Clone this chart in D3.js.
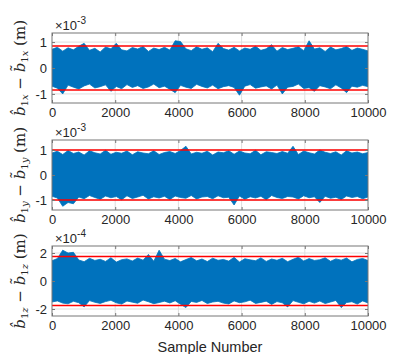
<!DOCTYPE html>
<html>
<head>
<meta charset="utf-8">
<script src="https://cdn.jsdelivr.net/npm/d3@7"></script>
<style>
  body { margin: 0; background: #fff; }
  svg { display: block; }
  text { font-family: "Liberation Sans", Arial, sans-serif; fill: #262626; }
</style>
</head>
<body>
<div id="chart"></div>
<script>
// sample axis
var nSamples = 10000;
var xTicks = [0, 2000, 4000, 6000, 8000, 10000];

// per-bin peak values (60 bins of ~167 samples each)
// x error, units of 1e-3 m
var hiX = [0.72,0.80,0.65,0.78,0.70,0.84,0.95,0.68,0.76,0.62,0.81,0.74,0.95,0.70,0.66,0.79,0.73,0.83,0.64,0.77,0.71,0.80,0.69,1.05,1.02,0.74,0.67,0.82,0.72,0.78,0.63,0.95,0.75,0.69,0.80,0.66,0.77,0.72,0.84,0.68,0.74,0.90,0.65,0.79,0.71,0.76,0.82,0.67,1.05,0.73,0.78,0.64,0.81,0.70,0.75,0.83,0.68,0.77,0.72,0.66];
var loX = [-0.70,-0.78,-1.00,-0.66,-0.74,-0.81,-0.69,-0.62,-0.77,-0.72,-0.65,-0.90,-0.71,-0.80,-0.64,-0.75,-0.68,-0.79,-0.73,-0.62,-0.76,-0.70,-0.82,-0.95,-0.67,-0.74,-0.79,-0.63,-0.71,-0.77,-0.66,-0.80,-0.72,-0.68,-0.75,-1.05,-0.70,-0.64,-0.78,-0.73,-0.69,-0.81,-0.66,-1.00,-0.74,-0.71,-0.62,-0.79,-0.76,-0.90,-0.68,-0.73,-0.80,-0.65,-0.77,-0.95,-0.70,-0.74,-0.67,-0.72];
var boundX = 0.85;
var yTicksX = [-1, 0, 1];
var yLimX = [-1.35, 1.35];

// y error, units of 1e-3 m
var hiY = [0.88,0.95,0.82,0.98,0.86,0.92,0.80,0.97,0.89,0.84,0.99,0.83,0.91,0.87,0.96,0.81,0.93,0.88,0.85,0.97,0.82,0.90,0.94,0.86,0.98,1.15,0.84,0.91,0.87,0.95,0.80,0.92,0.89,0.97,0.83,0.96,0.88,0.85,0.99,0.81,0.93,0.90,0.86,0.94,0.87,1.15,0.82,0.96,0.89,0.84,1.00,0.91,0.86,0.93,0.80,0.97,0.88,0.92,0.85,0.90];
var loY = [-0.85,-0.92,-1.25,-1.10,-1.15,-0.88,-0.95,-0.82,-0.90,-0.97,-0.84,-0.91,-0.86,-0.99,-0.83,-0.94,-0.88,-0.81,-0.96,-0.87,-0.92,-0.85,-0.98,-0.84,-0.90,-0.93,-0.82,-0.96,-0.88,-0.86,-0.95,-0.83,-0.91,-0.89,-1.20,-0.84,-0.97,-0.87,-0.92,-0.85,-0.99,-0.82,-0.90,-0.94,-0.86,-0.88,-0.96,-0.83,-0.91,-0.87,-1.10,-0.85,-0.93,-0.89,-0.98,-0.84,-0.90,-0.86,-0.95,-0.88];
var boundY = 1.0;
var yTicksY = [-1, 0, 1];
var yLimY = [-1.4, 1.4];

// z error, units of 1e-4 m
var hiZ = [1.45,1.60,2.20,2.00,2.05,1.50,1.38,1.62,1.47,1.55,1.40,1.66,1.35,1.52,1.58,1.43,1.64,1.49,1.90,1.41,2.20,1.56,1.46,1.61,1.37,1.53,1.68,1.44,1.57,1.39,1.63,1.48,1.54,1.42,1.69,1.36,1.59,1.51,1.45,1.65,1.40,1.57,1.48,1.62,1.38,1.55,1.70,1.43,1.60,1.47,1.52,1.66,1.41,1.58,1.49,1.64,1.37,1.54,1.61,1.46];
var loZ = [-1.50,-1.42,-1.58,-1.63,-1.45,-1.55,-1.85,-1.40,-1.52,-1.60,-1.47,-1.38,-1.56,-1.65,-1.43,-1.51,-1.59,-1.36,-1.48,-1.62,-1.54,-1.44,-1.57,-1.41,-1.66,-1.90,-1.46,-1.53,-1.39,-1.61,-1.50,-1.45,-1.58,-1.64,-1.42,-1.55,-1.49,-1.37,-1.60,-1.53,-1.44,-1.67,-1.47,-1.56,-1.85,-1.40,-1.52,-1.63,-1.45,-1.58,-1.43,-1.61,-1.50,-1.39,-1.90,-1.54,-1.48,-1.65,-1.42,-1.57];
var boundZ = 1.75;
var yTicksZ = [-2, 0, 2];
var yLimZ = [-2.5, 2.5];

var panels = [
  { hi: hiX, lo: loX, bound: boundX, ticks: yTicksX, lim: yLimX, exp: "-3", sub: "x" },
  { hi: hiY, lo: loY, bound: boundY, ticks: yTicksY, lim: yLimY, exp: "-3", sub: "y" },
  { hi: hiZ, lo: loZ, bound: boundZ, ticks: yTicksZ, lim: yLimZ, exp: "-4", sub: "z" }
];

// layout
var svgWidth = 407, svgHeight = 354;
var left = 52, plotW = 316, plotH = 70;
var tops = [33, 140, 246];

var svg = d3.select("#chart").append("svg")
  .attr("width", svgWidth)
  .attr("height", svgHeight);

var x = d3.scaleLinear().domain([0, nSamples]).range([0, plotW]);

panels.forEach(function(p, k) {
  var y = d3.scaleLinear().domain(p.lim).range([plotH, 0]);
  var g = svg.append("g").attr("transform", `translate(${left}, ${tops[k]})`);

  g.append("clipPath").attr("id", "clip" + k)
    .append("rect").attr("width", plotW).attr("height", plotH);

  // grid
  g.append("g").selectAll("line")
    .data(xTicks.slice(1, -1))
    .enter().append("line")
    .attr("x1", d => x(d)).attr("x2", d => x(d))
    .attr("y1", 0).attr("y2", plotH)
    .style("stroke", "#dedede").style("stroke-width", 1);
  g.append("g").selectAll("line")
    .data(p.ticks)
    .enter().append("line")
    .attr("x1", 0).attr("x2", plotW)
    .attr("y1", d => y(d)).attr("y2", d => y(d))
    .style("stroke", "#dedede").style("stroke-width", 1);

  // signal band: bin maxima on top, bin minima at the bottom
  var n = p.hi.length;
  var step = nSamples / (n - 1);
  var band = d3.area()
    .x((d, i) => x(i * step))
    .y0((d, i) => y(p.lo[i]))
    .y1(d => y(d));

  g.append("path")
    .datum(p.hi)
    .attr("clip-path", `url(#clip${k})`)
    .attr("d", band)
    .style("fill", "#0072BD")
    .style("stroke", "#0072BD")
    .style("stroke-width", 0.8);

  // bounds
  g.append("g").selectAll("line")
    .data([p.bound, -p.bound])
    .enter().append("line")
    .attr("x1", 0).attr("x2", plotW)
    .attr("y1", d => y(d)).attr("y2", d => y(d))
    .style("stroke", "#FF0000")
    .style("stroke-width", 1.6);

  // axes with inward ticks
  var bottomAxis = d3.axisBottom(x).tickValues(xTicks).tickSize(-3).tickPadding(5)
    .tickFormat(d3.format("d"));
  var topAxis = d3.axisTop(x).tickValues(xTicks).tickSize(-3).tickFormat("");
  var leftAxis = d3.axisLeft(y).tickValues(p.ticks).tickSize(-3).tickPadding(5)
    .tickFormat(d => String(d));
  var rightAxis = d3.axisRight(y).tickValues(p.ticks).tickSize(-3).tickFormat("");

  g.append("g").attr("transform", `translate(0, ${plotH})`).call(bottomAxis);
  g.append("g").call(topAxis);
  g.append("g").call(leftAxis);
  g.append("g").attr("transform", `translate(${plotW}, 0)`).call(rightAxis);

  g.selectAll(".domain").remove();
  g.selectAll(".tick line").style("stroke", "#777");
  g.selectAll(".tick text")
    .style("font-family", '"Liberation Sans", Arial, sans-serif')
    .style("font-size", "13px")
    .style("fill", "#262626");

  g.append("rect")
    .attr("width", plotW).attr("height", plotH)
    .style("fill", "none")
    .style("stroke", "#777")
    .style("stroke-width", 1);

  // exponent label
  var ex = g.append("text").attr("x", 3).attr("y", -3).style("font-size", "13px");
  ex.append("tspan").text("\u00d710");
  ex.append("tspan").attr("dy", -6).style("font-size", "10px").text(p.exp);

  // y label: b-hat minus b-tilde
  var yl = g.append("text")
    .attr("transform", `translate(-27, ${plotH / 2}) rotate(-90)`)
    .attr("text-anchor", "middle")
    .style("font-family", '"DejaVu Serif", "Liberation Serif", serif')
    .style("font-size", "15px");
  yl.append("tspan").style("font-style", "italic").text("b\u0302");
  yl.append("tspan").attr("dy", 3).style("font-size", "10px").text("1");
  yl.append("tspan").style("font-size", "10px").style("font-style", "italic").text(p.sub);
  yl.append("tspan").attr("dy", -3).text(" \u2212 ");
  yl.append("tspan").style("font-style", "italic").text("b\u0303");
  yl.append("tspan").attr("dy", 3).style("font-size", "10px").text("1");
  yl.append("tspan").style("font-size", "10px").style("font-style", "italic").text(p.sub);
  yl.append("tspan").attr("dy", -3).text(" (m)");
});

// x label
svg.append("text")
  .attr("x", left + plotW / 2)
  .attr("y", 352)
  .attr("text-anchor", "middle")
  .style("font-size", "14.5px")
  .text("Sample Number");
</script>
</body>
</html>
